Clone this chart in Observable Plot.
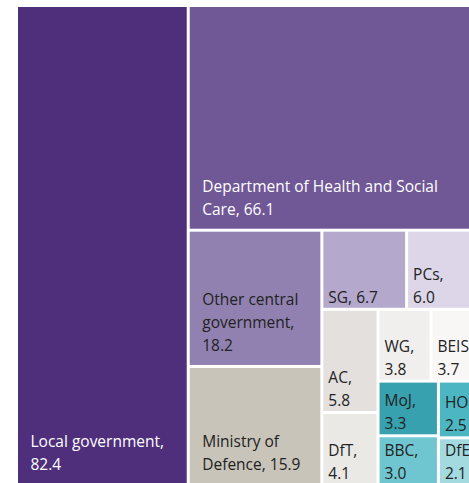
<!DOCTYPE html>
<html><head><meta charset="utf-8">
<script src="https://cdn.jsdelivr.net/npm/d3@7"></script>
<script src="https://cdn.jsdelivr.net/npm/@observablehq/plot@0.6"></script>
<style>
html,body{margin:0;padding:0;background:#fff;overflow:hidden}
#chart svg{display:block}
</style></head><body><div id="chart"></div>
<script>
const names = ["Local government","Department of Health and Social Care","Other central government","Ministry of Defence","SG","PCs","AC","DfT","WG","BEIS","MoJ","BBC","HO","DfE"];
const values = [82.4,66.1,18.2,15.9,6.7,6.0,5.8,4.1,3.8,3.7,3.3,3.0,2.5,2.1];
const labels = ["Local government,\n82.4","Department of Health and Social\nCare, 66.1","Other central\ngovernment,\n18.2","Ministry of\nDefence, 15.9","SG, 6.7","PCs,\n6.0","AC,\n5.8","DfT,\n4.1","WG,\n3.8","BEIS,\n3.7","MoJ,\n3.3","BBC,\n3.0","HO,\n2.5","DfE,\n2.1"];
const fills = ["#4f2f7b","#705897","#9181b1","#c8c4b9","#b4a9cc","#dcd6e8","#e3e0dd","#ebe9e6","#f0efed","#f8f7f6","#37a1af","#70c6d0","#4db6c3","#a2dadf"];
const inks = ["#ffffff","#ffffff","#222222","#222222","#222222","#222222","#222222","#222222","#222222","#222222","#222222","#222222","#222222","#222222"];
// layout structure: how many items per strip and its orientation
const groupSizes = [1, 1, 2, 2, 2, 2, 2, 2];
const groupOrient = ["column", "row", "column", "row", "column", "row", "column", "column"];

function tile(parent, x0, y0, x1, y1) {
  const nodes = parent.children;
  let k = 0, total = parent.value;
  groupSizes.forEach((size, g) => {
    const row = nodes.slice(k, k + size); k += size;
    const rv = d3.sum(row, d => d.value);
    const last = k >= nodes.length;
    if (groupOrient[g] === "column") {
      const xx = last ? x1 : x0 + (x1 - x0) * rv / total;
      let y = y0;
      for (const n of row) { n.x0 = x0; n.x1 = xx; n.y0 = y; y += (y1 - y0) * n.value / rv; n.y1 = y; }
      x0 = xx;
    } else {
      const yy = last ? y1 : y0 + (y1 - y0) * rv / total;
      let x = x0;
      for (const n of row) { n.y0 = y0; n.y1 = yy; n.x0 = x; x += (x1 - x0) * n.value / rv; n.x1 = x; }
      y0 = yy;
    }
    total -= rv;
  });
}

const W = 463, H = 477;
const root = d3.hierarchy({children: names.map((n, i) => ({name: n, value: values[i], i}))})
  .sum(d => d.value || 0)
  .sort((a, b) => b.value - a.value);
d3.treemap().size([W, H]).paddingInner(3).tile(tile)(root);
const cells = root.leaves().map(l => {
  const i = l.data.i;
  const big = (l.x1 - l.x0) > 100;
  return {x1: l.x0, x2: l.x1, y1: l.y0, y2: l.y1, fill: fills[i], ink: inks[i], label: labels[i],
          tx: l.x0 + (big ? 12 : 4.5), ty: l.y1 - (big ? 14.5 : 5.5)};
});

const chart = Plot.plot({
  width: 469, height: 483, margin: 0,
  x: {domain: [0, W], range: [18, 18 + W], axis: null},
  y: {domain: [0, H], range: [7, 7 + H], axis: null},
  color: {type: "identity"},
  style: {background: "#fff"},
  marks: [
    Plot.rect(cells, {x1: "x1", x2: "x2", y1: "y1", y2: "y2", fill: "fill"}),
    Plot.text(cells, {x: "tx", y: "ty", text: "label", fill: "ink", textAnchor: "start", lineAnchor: "bottom",
      fontSize: 15.5, lineHeight: 1.48, fontFamily: "'Open Sans', sans-serif"})
  ]
});
document.getElementById("chart").append(chart);
</script></body></html>
